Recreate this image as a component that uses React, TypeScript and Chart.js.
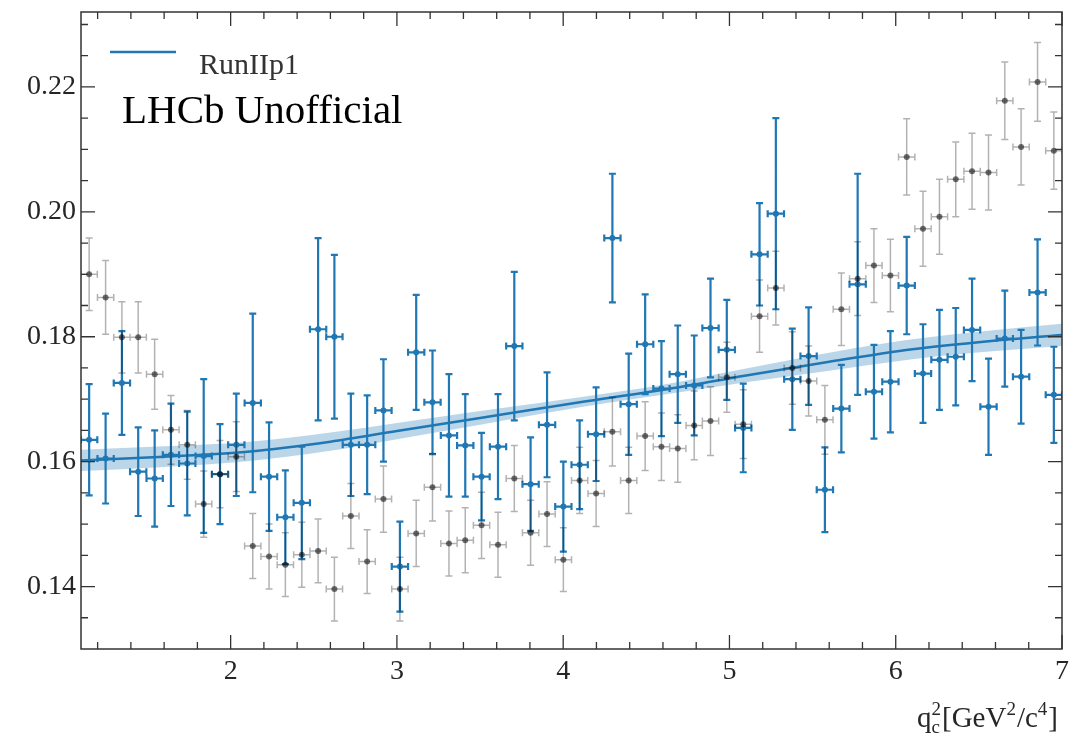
import React, { useEffect, useRef } from "react";
import { Chart, registerables } from "chart.js";

Chart.register(...registerables);

// ---- data ----
const binCenters = [
  1.149, 1.248, 1.346, 1.444, 1.543, 1.641, 1.739, 1.838, 1.936, 2.034,
  2.133, 2.231, 2.329, 2.428, 2.526, 2.624, 2.723, 2.821, 2.919, 3.018,
  3.116, 3.214, 3.313, 3.411, 3.509, 3.608, 3.706, 3.804, 3.903, 4.001,
  4.099, 4.198, 4.296, 4.394, 4.493, 4.591, 4.689, 4.788, 4.886, 4.984,
  5.083, 5.181, 5.279, 5.378, 5.476, 5.574, 5.673, 5.771, 5.869, 5.968,
  6.066, 6.164, 6.263, 6.361, 6.459, 6.558, 6.656, 6.754, 6.853, 6.951,
];
const binHalfWidth = 0.049;

const runIIp1Values = [
  0.1635, 0.1605, 0.1726, 0.1584, 0.1573, 0.1611, 0.1597, 0.1609, 0.158, 0.1627,
  0.1694, 0.1576, 0.1511, 0.1534, 0.1812, 0.18, 0.1627, 0.1627, 0.1682, 0.1432,
  0.1775, 0.1695, 0.1642, 0.1626, 0.1576, 0.1624, 0.1785, 0.1564, 0.1659, 0.1528,
  0.1595, 0.1644, 0.1958, 0.1692, 0.1788, 0.1717, 0.174, 0.1722, 0.1814, 0.1779,
  0.1654, 0.1932, 0.1997, 0.1732, 0.1769, 0.1555, 0.1685, 0.1884, 0.1712, 0.1728,
  0.1882, 0.1741, 0.1763, 0.1768, 0.1811, 0.1688, 0.1797, 0.1736, 0.1871, 0.1707,
];
const runIIp1Errors = [
  0.0089, 0.0072, 0.0083, 0.0071, 0.0077, 0.0082, 0.0083, 0.0123, 0.008, 0.0082,
  0.0143, 0.0087, 0.0075, 0.009, 0.0146, 0.0131, 0.0082, 0.0079, 0.0082, 0.0072,
  0.0092, 0.0083, 0.0098, 0.0082, 0.007, 0.0084, 0.0119, 0.0075, 0.0084, 0.0072,
  0.0071, 0.0075, 0.0103, 0.0081, 0.008, 0.0076, 0.0078, 0.008, 0.0079, 0.008,
  0.0071, 0.0082, 0.0153, 0.0081, 0.0078, 0.0068, 0.007, 0.0177, 0.0075, 0.0081,
  0.0078, 0.0079, 0.008, 0.0078, 0.0082, 0.0077, 0.0077, 0.0075, 0.0085, 0.0077,
];

const referenceValues = [
  0.19, 0.1863, 0.1799, 0.1799, 0.174, 0.1651, 0.1627, 0.1532, 0.158, 0.1608,
  0.1465, 0.1448, 0.1435, 0.1451, 0.1457, 0.1396, 0.1513, 0.144, 0.154, 0.1396,
  0.1485, 0.1559, 0.1469, 0.1474, 0.1498, 0.1467, 0.1573, 0.1486, 0.1516, 0.1443,
  0.157, 0.1549, 0.1648, 0.157, 0.1641, 0.1624, 0.1621, 0.1658, 0.1665, 0.1735,
  0.166, 0.1833, 0.1878, 0.175, 0.1729, 0.1667, 0.1844, 0.1893, 0.1914, 0.1898,
  0.2088, 0.1973, 0.1992, 0.2052, 0.2065, 0.2063, 0.2178, 0.2104, 0.2208, 0.2098,
];
const referenceErrors = [
  0.0058, 0.0059, 0.0057, 0.0057, 0.0056, 0.0055, 0.0055, 0.0053, 0.0054, 0.0056,
  0.0052, 0.0052, 0.0051, 0.0052, 0.0051, 0.0051, 0.0052, 0.0051, 0.0053, 0.0051,
  0.0053, 0.0054, 0.0052, 0.0052, 0.0053, 0.0052, 0.0053, 0.0052, 0.0052, 0.0051,
  0.0053, 0.0053, 0.0055, 0.0053, 0.0055, 0.0054, 0.0054, 0.0055, 0.0055, 0.0056,
  0.0055, 0.0058, 0.0059, 0.0058, 0.0056, 0.0055, 0.0058, 0.0059, 0.0059, 0.0058,
  0.0061, 0.006, 0.006, 0.006, 0.0061, 0.006, 0.0062, 0.0061, 0.0063, 0.0062,
];

const fitX = [1.1, 1.6, 2.1, 2.6, 3.0, 3.5, 4.1, 4.6, 5.1, 5.6, 6.1, 6.6, 7.0];
const fitY = [0.1602, 0.1608, 0.1616, 0.1632, 0.1649, 0.167, 0.1695, 0.1715, 0.1738, 0.176, 0.178, 0.1794, 0.1803];
const fitBand = [0.0017, 0.00165, 0.00155, 0.00147, 0.0013, 0.0011, 0.0008, 0.0008, 0.0011, 0.00145, 0.0016, 0.0017, 0.0018];

const xMajorTicks = [2, 3, 4, 5, 6, 7];
const xMinorTicks = [1.2, 1.4, 1.6, 1.8, 2.2, 2.4, 2.6, 2.8, 3.2, 3.4, 3.6, 3.8, 4.2, 4.4, 4.6, 4.8, 5.2, 5.4, 5.6, 5.8, 6.2, 6.4, 6.6, 6.8];
const yMajorTicks = [0.14, 0.16, 0.18, 0.2, 0.22];
const yMinorTicks = [0.135, 0.145, 0.15, 0.155, 0.165, 0.17, 0.175, 0.185, 0.19, 0.195, 0.205, 0.21, 0.215, 0.225, 0.23];

const legendLabel = "RunIIp1";
const watermark = "LHCb Unofficial";

// ---- styles ----
const C0 = "#1f77b4";
const FONT = '"Liberation Serif", "Times New Roman", serif';
const AXIS_COLOR = "#333333";

function drawErrorBars(chart: any, values: number[], errors: number[], color: string, lw: number, cap: number) {
  const { ctx, chartArea } = chart;
  const xs = chart.scales.x;
  const ys = chart.scales.y;
  ctx.save();
  ctx.beginPath();
  ctx.rect(chartArea.left, chartArea.top, chartArea.right - chartArea.left, chartArea.bottom - chartArea.top);
  ctx.clip();
  ctx.strokeStyle = color;
  ctx.lineWidth = lw;
  ctx.beginPath();
  for (let i = 0; i < binCenters.length; i++) {
    const x = xs.getPixelForValue(binCenters[i]);
    const xl = xs.getPixelForValue(binCenters[i] - binHalfWidth);
    const xr = xs.getPixelForValue(binCenters[i] + binHalfWidth);
    const y = ys.getPixelForValue(values[i]);
    const yt = ys.getPixelForValue(values[i] + errors[i]);
    const yb = ys.getPixelForValue(values[i] - errors[i]);
    ctx.moveTo(x, yt); ctx.lineTo(x, yb);
    ctx.moveTo(xl, y); ctx.lineTo(xr, y);
    ctx.moveTo(x - cap, yt); ctx.lineTo(x + cap, yt);
    ctx.moveTo(x - cap, yb); ctx.lineTo(x + cap, yb);
    ctx.moveTo(xl, y - cap); ctx.lineTo(xl, y + cap);
    ctx.moveTo(xr, y - cap); ctx.lineTo(xr, y + cap);
  }
  ctx.stroke();
  ctx.restore();
}

const decorPlugin = {
  id: "lhcbDecor",
  beforeDatasetDraw(chart: any, args: any) {
    if (args.index === 3) drawErrorBars(chart, runIIp1Values, runIIp1Errors, C0, 2.2, 3.5);
    if (args.index === 4) drawErrorBars(chart, referenceValues, referenceErrors, "rgba(0,0,0,0.3)", 1.5, 3.5);
  },
  afterDraw(chart: any) {
    const { ctx, chartArea } = chart;
    const xs = chart.scales.x;
    const ys = chart.scales.y;
    const { left, right, top, bottom } = chartArea;
    ctx.save();
    // spines
    ctx.strokeStyle = AXIS_COLOR;
    ctx.lineWidth = 1.5;
    ctx.strokeRect(left, top, right - left, bottom - top);
    // inward ticks
    ctx.lineWidth = 1.3;
    ctx.beginPath();
    const xTick = (v: number, len: number) => {
      const p = xs.getPixelForValue(v);
      ctx.moveTo(p, bottom); ctx.lineTo(p, bottom - len);
      ctx.moveTo(p, top); ctx.lineTo(p, top + len);
    };
    const yTick = (v: number, len: number) => {
      const p = ys.getPixelForValue(v);
      ctx.moveTo(left, p); ctx.lineTo(left + len, p);
      ctx.moveTo(right, p); ctx.lineTo(right - len, p);
    };
    xMajorTicks.forEach((v) => xTick(v, 14));
    xMinorTicks.forEach((v) => xTick(v, 7));
    yMajorTicks.forEach((v) => yTick(v, 14));
    yMinorTicks.forEach((v) => yTick(v, 7));
    ctx.stroke();

    // legend
    ctx.strokeStyle = C0;
    ctx.lineWidth = 2.5;
    ctx.beginPath();
    ctx.moveTo(left + 29, top + 40);
    ctx.lineTo(left + 95, top + 40);
    ctx.stroke();
    ctx.fillStyle = "#333333";
    ctx.font = `30px ${FONT}`;
    ctx.textBaseline = "alphabetic";
    ctx.textAlign = "left";
    ctx.fillText(legendLabel, left + 118, top + 62);

    // watermark
    ctx.fillStyle = "#000000";
    ctx.font = `41px ${FONT}`;
    ctx.fillText(watermark, left + 41, top + 111);

    // x axis title: q^2_c[GeV^2/c^4]
    const main = 29;
    const small = 19;
    const segs: { t: string; size: number; dy: number; stackWith?: string }[] = [
      { t: "q", size: main, dy: 0 },
      { t: "2", size: small, dy: -12, stackWith: "c" },
      { t: "[GeV", size: main, dy: 0 },
      { t: "2", size: small, dy: -12 },
      { t: "/c", size: main, dy: 0 },
      { t: "4", size: small, dy: -12 },
      { t: "]", size: main, dy: 0 },
    ];
    const widths = segs.map((s) => {
      ctx.font = `${s.size}px ${FONT}`;
      let w = ctx.measureText(s.t).width;
      if (s.stackWith) w = Math.max(w, ctx.measureText(s.stackWith).width);
      return w + (s.size === small ? 1 : 0);
    });
    const total = widths.reduce((a, b) => a + b, 0);
    let x = right - 4 - total;
    const base = bottom + 78;
    ctx.fillStyle = "#262626";
    segs.forEach((s, i) => {
      ctx.font = `${s.size}px ${FONT}`;
      ctx.fillText(s.t, x, base + s.dy);
      if (s.stackWith) ctx.fillText(s.stackWith, x, base + 6);
      x += widths[i];
    });
    ctx.restore();
  },
};

export default function App() {
  const canvasRef = useRef<HTMLCanvasElement | null>(null);

  useEffect(() => {
    const canvas = canvasRef.current;
    if (!canvas) return;
    const bandUpper = fitX.map((x, i) => ({ x, y: fitY[i] + fitBand[i] }));
    const bandLower = fitX.map((x, i) => ({ x, y: fitY[i] - fitBand[i] }));
    const fitLine = fitX.map((x, i) => ({ x, y: fitY[i] }));
    const bluePts = binCenters.map((x, i) => ({ x, y: runIIp1Values[i] }));
    const grayPts = binCenters.map((x, i) => ({ x, y: referenceValues[i] }));

    const tickFont = { family: FONT, size: 28 };

    const chart = new Chart(canvas, {
      type: "scatter",
      data: {
        datasets: [
          {
            label: "band upper",
            data: bandUpper,
            showLine: true,
            borderWidth: 0,
            borderColor: "rgba(0,0,0,0)",
            pointRadius: 0,
            fill: "+1",
            backgroundColor: "rgba(31,119,180,0.3)",
            cubicInterpolationMode: "monotone",
            order: 5,
          },
          {
            label: "band lower",
            data: bandLower,
            showLine: true,
            borderWidth: 0,
            borderColor: "rgba(0,0,0,0)",
            pointRadius: 0,
            fill: false,
            cubicInterpolationMode: "monotone",
            order: 4,
          },
          {
            label: legendLabel,
            data: fitLine,
            showLine: true,
            borderColor: C0,
            borderWidth: 2.5,
            pointRadius: 0,
            fill: false,
            cubicInterpolationMode: "monotone",
            order: 3,
          },
          {
            label: "RunIIp1 data",
            data: bluePts,
            pointRadius: 3,
            pointBackgroundColor: C0,
            pointBorderWidth: 0,
            order: 2,
          },
          {
            label: "reference",
            data: grayPts,
            pointRadius: 3,
            pointBackgroundColor: "rgba(0,0,0,0.55)",
            pointBorderWidth: 0,
            order: 1,
          },
        ],
      },
      options: {
        responsive: false,
        animation: false,
        events: [],
        layout: { padding: { top: 12, right: 16, left: 0, bottom: 0 } },
        plugins: {
          legend: { display: false },
          tooltip: { enabled: false },
        },
        scales: {
          x: {
            type: "linear",
            min: 1.1,
            max: 7,
            afterBuildTicks: (scale: any) => {
              scale.ticks = xMajorTicks.map((v) => ({ value: v }));
            },
            afterFit: (scale: any) => {
              scale.height = 99;
              scale.paddingLeft = 0;
              scale.paddingRight = 0;
              scale.paddingTop = 0;
              scale.paddingBottom = 0;
            },
            grid: { display: false, drawTicks: false },
            border: { display: false },
            ticks: {
              font: tickFont,
              color: "#262626",
              padding: 6,
              maxRotation: 0,
              callback: (v: any) => String(v),
            },
          },
          y: {
            type: "linear",
            min: 0.13,
            max: 0.232,
            afterBuildTicks: (scale: any) => {
              scale.ticks = yMajorTicks.map((v) => ({ value: v }));
            },
            afterFit: (scale: any) => {
              scale.width = 81;
              scale.paddingLeft = 0;
              scale.paddingRight = 0;
              scale.paddingTop = 0;
              scale.paddingBottom = 0;
            },
            grid: { display: false, drawTicks: false },
            border: { display: false },
            ticks: {
              font: tickFont,
              color: "#262626",
              padding: 5,
              callback: (v: any) => Number(v).toFixed(2),
            },
          },
        },
      },
      plugins: [decorPlugin],
    } as any);

    return () => chart.destroy();
  }, []);

  return (
    <div style={{ position: "fixed", left: 0, top: 0, width: 1078, height: 748, background: "#fff" }}>
      <canvas ref={canvasRef} width={1078} height={748} style={{ display: "block" }} />
    </div>
  );
}
